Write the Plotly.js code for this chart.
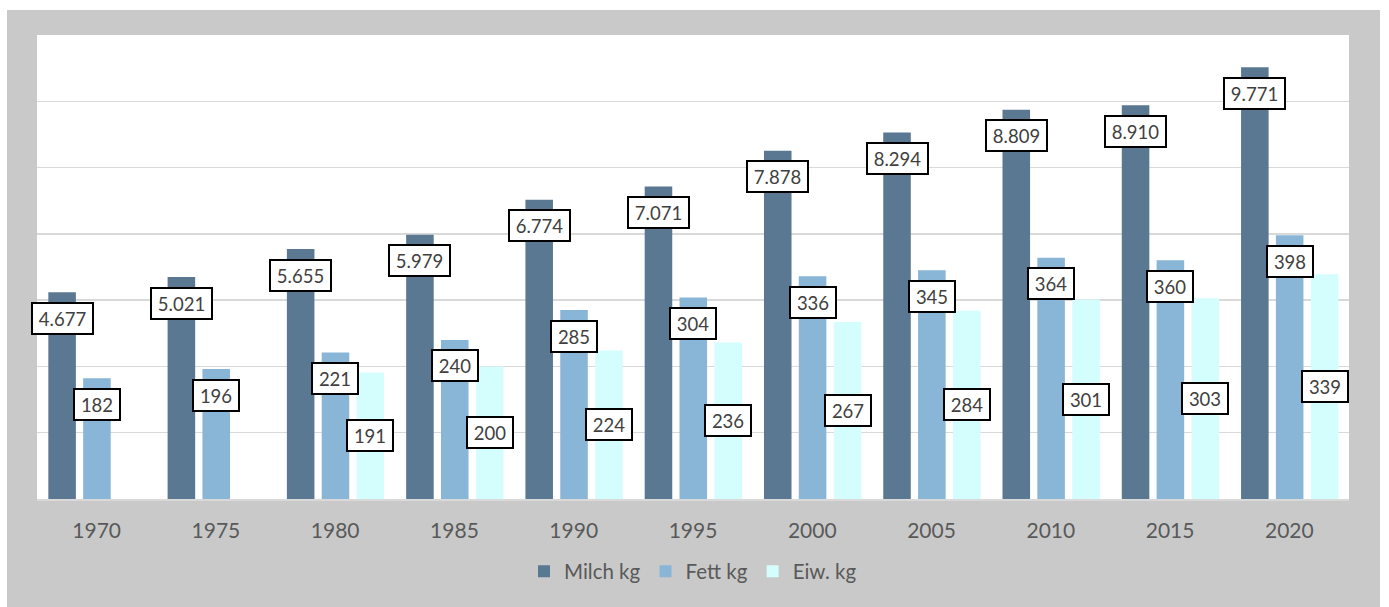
<!DOCTYPE html>
<html>
<head>
<meta charset="utf-8">
<script src="https://cdn.plot.ly/plotly-3.0.1.min.js"></script>
<style>
  html, body { margin: 0; padding: 0; background: #ffffff; width: 1389px; height: 607px; overflow: hidden; }
  #chart { position: absolute; left: 7px; top: 10px; width: 1373px; height: 597px; }
</style>
</head>
<body>
<div id="chart"></div>
<script>
// ---- data ----
const years = ['1970','1975','1980','1985','1990','1995','2000','2005','2010','2015','2020'];
const milch = [4677, 5021, 5655, 5979, 6774, 7071, 7878, 8294, 8809, 8910, 9771];
const fett  = [182, 196, 221, 240, 285, 304, 336, 345, 364, 360, 398];
const eiw   = [null, null, 191, 200, 224, 236, 267, 284, 301, 303, 339];
const seriesNames = ['Milch kg', 'Fett kg', 'Eiw. kg'];

// ---- style ----
const colors = ['#5b7893', '#89b5d7', '#d4fdfd'];
const barW = 0.231;
const offsets = [-0.405, -0.113, 0.180];
const FONT = 'Lato, "Open Sans", sans-serif';
const textColor = '#595959';
const gridColor = '#d9d9d9';

function fmt(v) {
  if (v >= 1000) {
    const th = Math.floor(v / 1000);
    const rest = String(v % 1000).padStart(3, '0');
    return th + '.' + rest;
  }
  return String(v);
}

const traces = [
  { type: 'bar', name: seriesNames[0], x: years, y: milch, yaxis: 'y',
    marker: { color: colors[0] }, width: barW, offset: offsets[0], hoverinfo: 'skip' },
  { type: 'bar', name: seriesNames[1], x: years, y: fett, yaxis: 'y2',
    marker: { color: colors[1] }, width: barW, offset: offsets[1], hoverinfo: 'skip' },
  { type: 'bar', name: seriesNames[2], x: years, y: eiw, yaxis: 'y2',
    marker: { color: colors[2] }, width: barW, offset: offsets[2], hoverinfo: 'skip' }
];

const annotations = [];
function addLabel(i, v, seriesIdx, yref, yVal, yshift) {
  const txt = fmt(v);
  annotations.push({
    x: i + offsets[seriesIdx] + barW / 2, xref: 'x',
    y: yVal, yref: yref,
    yshift: yshift,
    text: txt, showarrow: false,
    xanchor: 'center', yanchor: 'middle',
    font: { family: FONT, size: 18.5, color: '#404040' },
    bgcolor: '#ffffff', bordercolor: '#000000', borderwidth: 2, borderpad: 0,
    width: txt.length >= 5 ? 59 : 44, height: 29
  });
}
years.forEach((yr, i) => {
  if (milch[i] != null) addLabel(i, milch[i], 0, 'y', milch[i], -26);
  if (fett[i] != null) addLabel(i, fett[i], 1, 'y2', fett[i], -26);
  if (eiw[i] != null) addLabel(i, eiw[i], 2, 'y2', eiw[i] / 2, 0);
});

const layout = {
  width: 1373, height: 597,
  margin: { l: 30, r: 31, t: 25, b: 108, pad: 0 },
  paper_bgcolor: '#c9c9c9',
  plot_bgcolor: '#ffffff',
  barmode: 'overlay',
  showlegend: true,
  legend: {
    orientation: 'h', x: 0.5, xanchor: 'center', y: -0.156, yanchor: 'middle',
    font: { family: FONT, size: 20.5, color: textColor },
    bgcolor: 'rgba(0,0,0,0)', traceorder: 'normal', itemwidth: 30
  },
  xaxis: {
    type: 'category', range: [-0.5, 10.5],
    showline: true, linecolor: gridColor, linewidth: 2,
    showgrid: false, zeroline: false,
    ticks: 'outside', ticklen: 12, tickcolor: 'rgba(0,0,0,0)',
    tickfont: { family: FONT, size: 21, color: textColor },
    fixedrange: true
  },
  yaxis: {
    range: [0, 10500], dtick: 1500, tick0: 0,
    showticklabels: false, showgrid: true, gridcolor: gridColor, gridwidth: 1.5,
    zeroline: false, showline: false, fixedrange: true
  },
  yaxis2: {
    range: [0, 700], overlaying: 'y', side: 'right',
    showticklabels: false, showgrid: false, zeroline: false, showline: false, fixedrange: true
  },
  annotations: annotations,
  font: { family: FONT, color: textColor }
};

Plotly.newPlot('chart', traces, layout, { staticPlot: true, displayModeBar: false });
</script>
</body>
</html>
